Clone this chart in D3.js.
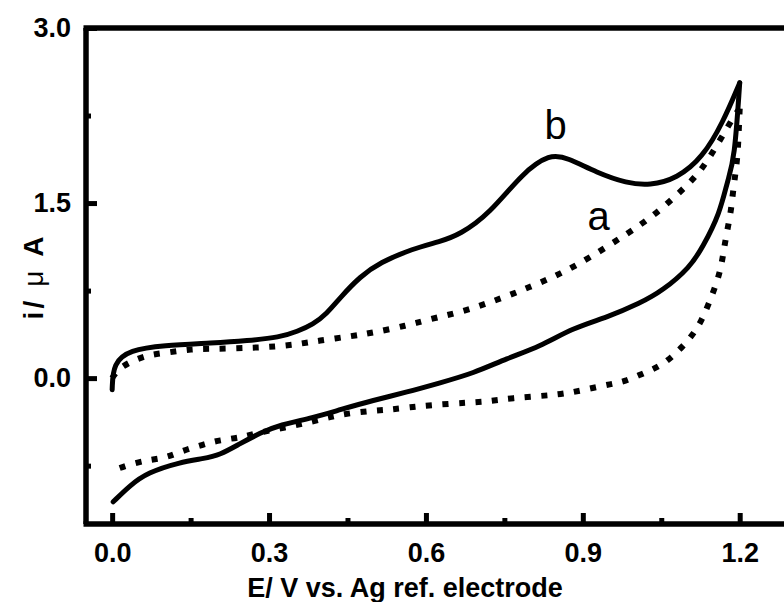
<!DOCTYPE html>
<html>
<head>
<meta charset="utf-8">
<script src="https://cdn.jsdelivr.net/npm/d3@7"></script>
<style>
  body { margin: 0; background: #fff; }
  svg { display: block; }
  .tick text { font-family: "Liberation Sans", Arial, sans-serif; font-weight: bold; font-size: 27px; fill: #000; }
</style>
</head>
<body>
<div id="chart"></div>
<script>
  // cyclic voltammograms, a = dotted, b = solid
  // [E (V), i (uA)] pairs
  const bForward = [[0,-0.10],[0.002,0.13],[0.034,0.24],[0.097,0.28],[0.193,0.30],[0.258,0.32],[0.321,0.35],
    [0.354,0.40],[0.384,0.46],[0.410,0.55],[0.436,0.69],[0.474,0.87],[0.512,0.99],[0.575,1.11],[0.627,1.17],
    [0.665,1.23],[0.722,1.41],[0.785,1.76],[0.837,1.92],[0.870,1.89],[0.927,1.76],[0.984,1.67],[1.028,1.65],
    [1.080,1.71],[1.129,1.89],[1.168,2.19],[1.200,2.53]];
  const bReverse = [[1.200,2.53],[1.190,1.87],[1.177,1.70],[1.162,1.41],[1.129,1.12],[1.105,0.95],[1.053,0.75],
    [1.009,0.64],[0.946,0.52],[0.881,0.43],[0.818,0.27],[0.755,0.17],[0.690,0.04],[0.627,-0.04],[0.564,-0.12],
    [0.499,-0.19],[0.436,-0.27],[0.384,-0.34],[0.321,-0.40],[0.283,-0.47],[0.245,-0.56],[0.206,-0.66],
    [0.174,-0.69],[0.130,-0.72],[0.067,-0.81],[0.034,-0.92],[0.002,-1.06]];
  const aForward = [[0,0.00],[0.010,0.07],[0.034,0.14],[0.069,0.20],[0.109,0.22],[0.151,0.25],[0.191,0.25],
    [0.268,0.26],[0.311,0.27],[0.354,0.29],[0.394,0.32],[0.459,0.36],[0.499,0.39],[0.564,0.45],[0.602,0.50],
    [0.671,0.57],[0.736,0.67],[0.799,0.78],[0.856,0.89],[0.913,1.03],[0.986,1.24],[1.038,1.40],[1.085,1.59],
    [1.124,1.76],[1.156,1.99],[1.187,2.23],[1.200,2.31]];
  const aReverse = [[1.200,2.31],[1.198,2.10],[1.196,1.91],[1.192,1.76],[1.187,1.59],[1.183,1.42],[1.175,1.24],
    [1.169,1.08],[1.164,0.94],[1.154,0.79],[1.141,0.64],[1.127,0.49],[1.110,0.37],[1.091,0.27],[1.070,0.18],
    [1.047,0.10],[1.015,0.04],[0.980,-0.03],[0.954,-0.05],[0.913,-0.09],[0.871,-0.13],[0.831,-0.15],
    [0.764,-0.17],[0.719,-0.20],[0.680,-0.21],[0.612,-0.23],[0.569,-0.25],[0.531,-0.27],[0.497,-0.28],
    [0.455,-0.30],[0.417,-0.33],[0.378,-0.38],[0.277,-0.47],[0.245,-0.51],[0.206,-0.53],[0.174,-0.57],
    [0.136,-0.62],[0.105,-0.68],[0.073,-0.70],[0.040,-0.73],[0.002,-0.79]];

  const xTicks = [0, 0.3, 0.6, 0.9, 1.2],
    xMinor = [0.15, 0.45, 0.75, 1.05],
    yTicks = [0, 1.5, 3.0],
    yMinor = [-0.75, 0.75, 2.25],
    curveLabels = [{text: "b", E: 0.848, i: 2.05}, {text: "a", E: 0.930, i: 1.27}];

  const width = 784, height = 602,
    font = '"Liberation Sans", Arial, sans-serif';

  const x = d3.scaleLinear().domain([-0.05, 1.3]).range([86, 792]);
  const y = d3.scaleLinear().domain([-1.25, 3.0]).range([524, 28]);

  const svg = d3.select("#chart").append("svg")
      .attr("width", width)
      .attr("height", height);

  //ticks point into the plot
  const xAxis = svg.append("g")
      .attr("transform", "translate(0," + y.range()[0] + ")")
      .call(d3.axisBottom(x).tickValues(xTicks).tickFormat(d3.format(".1f")).tickSize(-11).tickPadding(19));
  const xAxisMinor = svg.append("g")
      .attr("transform", "translate(0," + y.range()[0] + ")")
      .call(d3.axisBottom(x).tickValues(xMinor).tickFormat("").tickSize(-6));
  const yAxis = svg.append("g")
      .attr("transform", "translate(" + x.range()[0] + ",0)")
      .call(d3.axisLeft(y).tickValues(yTicks).tickFormat(d3.format(".1f")).tickSize(-11).tickPadding(15));
  const yAxisMinor = svg.append("g")
      .attr("transform", "translate(" + x.range()[0] + ",0)")
      .call(d3.axisLeft(y).tickValues(yMinor).tickFormat("").tickSize(-5));

  svg.selectAll(".domain").remove();
  svg.selectAll(".tick line").attr("stroke", "#000").attr("stroke-width", 5);

  //frame: left, top, bottom (right side falls outside the picture)
  const frame = [
    [x.range()[0], y.range()[0], x.range()[0], y.range()[1]],
    [x.range()[0] - 2.5, y.range()[1], x.range()[1], y.range()[1]],
    [x.range()[0] - 2.5, y.range()[0], x.range()[1], y.range()[0]]
  ];
  svg.selectAll(".frame")
    .data(frame)
    .enter().append("line")
      .attr("class", "frame")
      .attr("x1", (d) => d[0]).attr("y1", (d) => d[1])
      .attr("x2", (d) => d[2]).attr("y2", (d) => d[3])
      .attr("stroke", "#000")
      .attr("stroke-width", 5.5);

  const line = d3.line()
    .x((d) => x(d[0]))
    .y((d) => y(d[1]))
    .curve(d3.curveBasis);

  [aForward, aReverse].forEach(function(d){
    svg.append("path")
      .attr("d", line(d))
      .attr("fill", "none")
      .attr("stroke", "#000")
      .attr("stroke-width", 6)
      .attr("stroke-dasharray", "6,10.5");
  });

  [bForward, bReverse].forEach(function(d){
    svg.append("path")
      .attr("d", line(d))
      .attr("fill", "none")
      .attr("stroke", "#000")
      .attr("stroke-width", 5)
      .attr("stroke-linecap", "round")
      .attr("stroke-linejoin", "round");
  });

  svg.selectAll(".curveLabel")
    .data(curveLabels)
    .enter().append("text")
      .attr("class", "curveLabel")
      .attr("x", (d) => x(d.E))
      .attr("y", (d) => y(d.i))
      .attr("text-anchor", "middle")
      .style("font-family", font)
      .style("font-size", "40px")
      .text((d) => d.text);

  //axis titles
  svg.append("text")
    .attr("x", 405)
    .attr("y", 597)
    .attr("text-anchor", "middle")
    .style("font-family", font)
    .style("font-weight", "bold")
    .style("font-size", "27px")
    .text("E/ V vs. Ag ref. electrode");

  const yTitle = svg.append("text")
    .attr("transform", "translate(43,278) rotate(-90)")
    .attr("text-anchor", "middle")
    .attr("textLength", 83)
    .attr("lengthAdjust", "spacing")
    .style("font-family", font)
    .style("font-weight", "bold")
    .style("font-size", "28px");
  yTitle.append("tspan").text("i/ ");
  yTitle.append("tspan").style("font-weight", "normal").text("μ");
  yTitle.append("tspan").text(" A");
</script>
</body>
</html>
